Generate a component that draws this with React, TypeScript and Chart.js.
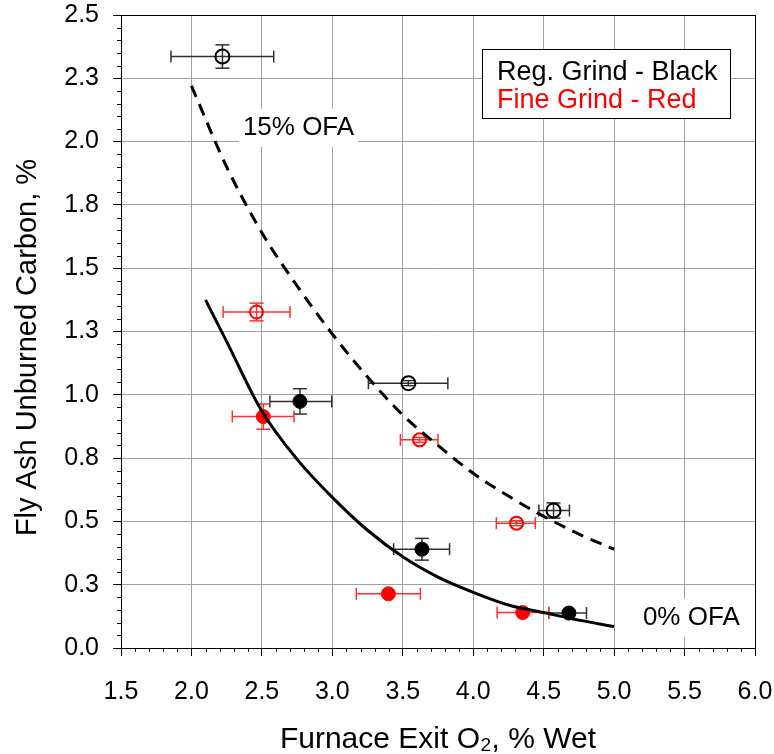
import React, { useEffect, useRef } from "react";
import { Chart, registerables } from "chart.js";

Chart.register(...registerables);

// ---- data ----
const xTickMin = 1.5;
const xTickMax = 6.0;
const xTickStep = 0.5;
const yTickMin = 0;
const yTickMax = 2.5;
const yTickStep = 0.25;

// Reg. Grind (black), 15% OFA (open circles)
const regOpenX = [2.22, 3.54, 4.57];
const regOpenY = [2.336, 1.046, 0.543];
const regOpenXLo = [1.855, 3.256, 4.466];
const regOpenXHi = [2.584, 3.82, 4.683];
const regOpenYErr = [0.046, 0.01, 0.03];

// Reg. Grind (black), 0% OFA (filled circles)
const regFillX = [2.77, 3.636, 4.679];
const regFillY = [0.974, 0.39, 0.138];
const regFillXLo = [2.557, 3.435, 4.536];
const regFillXHi = [2.996, 3.832, 4.804];
const regFillYErr = [0.05, 0.043, 0.01];

// Fine Grind (red), 15% OFA (open circles)
const fineOpenX = [2.462, 3.619, 4.307];
const fineOpenY = [1.327, 0.822, 0.493];
const fineOpenXLo = [2.225, 3.483, 4.164];
const fineOpenXHi = [2.7, 3.75, 4.441];
const fineOpenYErr = [0.035, 0.01, 0.01];

// Fine Grind (red), 0% OFA (filled circles)
const fineFillX = [2.51, 3.398, 4.351];
const fineFillY = [0.914, 0.214, 0.14];
const fineFillXLo = [2.29, 3.17, 4.17];
const fineFillXHi = [2.728, 3.625, 4.536];
const fineFillYErr = [0.05, 0, 0];

// Trend curves
const ofa15X = [2.0, 2.25, 2.5, 2.75, 3.0, 3.25, 3.5, 3.75, 4.0, 4.25, 4.5, 4.75, 5.0];
const ofa15Y = [2.22, 1.9, 1.64, 1.43, 1.24, 1.07, 0.92, 0.8, 0.69, 0.6, 0.52, 0.45, 0.39];
const ofa0X = [2.1, 2.25, 2.5, 2.75, 3.0, 3.25, 3.5, 3.75, 4.0, 4.25, 4.5, 4.75, 5.0];
const ofa0Y = [1.375, 1.21, 0.935, 0.745, 0.595, 0.465, 0.36, 0.28, 0.22, 0.17, 0.14, 0.11, 0.085];

// Text
const xTitle = "Furnace Exit O\u2082, % Wet";
const yTitle = "Fly Ash Unburned Carbon, %";
const legendLines = ["Reg. Grind - Black", "Fine Grind - Red"];
const curveLabels = ["15% OFA", "0% OFA"];
const curveLabelX = [2.76, 5.548];
const curveLabelY = [2.062, 0.127];

const FONT = '"Liberation Sans", Arial, Helvetica, sans-serif';
const RED = "#ff0000";
const BLACK = "#000000";

const pts = (xs: number[], ys: number[]) => xs.map((x, i) => ({ x, y: ys[i] }));

const errorSets = [
  { x: regOpenX, y: regOpenY, lo: regOpenXLo, hi: regOpenXHi, ye: regOpenYErr, color: "#303030" },
  { x: regFillX, y: regFillY, lo: regFillXLo, hi: regFillXHi, ye: regFillYErr, color: "#303030" },
  { x: fineOpenX, y: fineOpenY, lo: fineOpenXLo, hi: fineOpenXHi, ye: fineOpenYErr, color: "#ff3030" },
  { x: fineFillX, y: fineFillY, lo: fineFillXLo, hi: fineFillXHi, ye: fineFillYErr, color: "#ff3030" },
];

const zeroPad = (s: any) => {
  s.paddingTop = 0;
  s.paddingBottom = 0;
  s.paddingLeft = 0;
  s.paddingRight = 0;
};

const decorPlugin = {
  id: "decor",
  beforeDatasetsDraw(chart: any) {
    const { ctx, scales } = chart;
    const xs = scales.x;
    const ys = scales.y;
    ctx.save();
    ctx.lineWidth = 1.5;
    const seg = (a: number, b: number, c: number, d: number) => {
      ctx.beginPath();
      ctx.moveTo(a, b);
      ctx.lineTo(c, d);
      ctx.stroke();
    };
    errorSets.forEach((s) => {
      ctx.strokeStyle = s.color;
      s.x.forEach((xv, i) => {
        const px = xs.getPixelForValue(xv);
        const py = ys.getPixelForValue(s.y[i]);
        const x0 = xs.getPixelForValue(s.lo[i]);
        const x1 = xs.getPixelForValue(s.hi[i]);
        seg(x0, py, x1, py);
        seg(x0, py - 6, x0, py + 6);
        seg(x1, py - 6, x1, py + 6);
        if (s.ye[i] > 0) {
          const y0 = ys.getPixelForValue(s.y[i] - s.ye[i]);
          const y1 = ys.getPixelForValue(s.y[i] + s.ye[i]);
          seg(px, y0, px, y1);
          seg(px - 7, y0, px + 7, y0);
          seg(px - 7, y1, px + 7, y1);
        }
      });
    });
    ctx.restore();
  },
  afterDatasetsDraw(chart: any) {
    const { ctx, scales, chartArea } = chart;
    const xs = scales.x;
    const ys = scales.y;
    ctx.save();
    // curve labels with white background
    const size = 26;
    ctx.font = `${size}px ${FONT}`;
    ctx.textAlign = "center";
    ctx.textBaseline = "alphabetic";
    curveLabels.forEach((t, i) => {
      const cx = xs.getPixelForValue(curveLabelX[i]);
      const cy = ys.getPixelForValue(curveLabelY[i]);
      const w = ctx.measureText(t).width;
      ctx.fillStyle = "#ffffff";
      ctx.fillRect(cx - w / 2 - 4, cy - 17, w + 8, 38);
      ctx.fillStyle = BLACK;
      ctx.fillText(t, cx, cy + size * 0.36);
    });
    // legend box
    const bw = 248;
    const bh = 69;
    const bx = chartArea.right - 25 - bw;
    const by = chartArea.top + 34;
    ctx.fillStyle = "#ffffff";
    ctx.fillRect(bx, by, bw, bh);
    ctx.strokeStyle = BLACK;
    ctx.lineWidth = 1;
    ctx.strokeRect(Math.round(bx) + 0.5, Math.round(by) + 0.5, bw, bh);
    ctx.textAlign = "left";
    ctx.font = `27px ${FONT}`;
    ctx.fillStyle = BLACK;
    ctx.fillText(legendLines[0], bx + 15, by + 31);
    ctx.fillStyle = RED;
    ctx.fillText(legendLines[1], bx + 15, by + 59);
    ctx.restore();
  },
  afterDraw(chart: any) {
    const { ctx, scales, chartArea } = chart;
    const xs = scales.x;
    const ys = scales.y;
    ctx.save();
    ctx.strokeStyle = BLACK;
    ctx.lineWidth = 1;
    // minor ticks
    const nx = Math.round((xTickMax - xTickMin) / 0.1);
    for (let i = 0; i <= nx; i++) {
      if (i % 5 === 0) continue;
      const px = Math.round(xs.getPixelForValue(xTickMin + i * 0.1)) + 0.5;
      ctx.beginPath();
      ctx.moveTo(px, chartArea.bottom);
      ctx.lineTo(px, chartArea.bottom + 4);
      ctx.stroke();
    }
    const ny = Math.round((yTickMax - yTickMin) / 0.05);
    for (let i = 0; i <= ny; i++) {
      if (i % 5 === 0) continue;
      const py = Math.round(ys.getPixelForValue(yTickMin + i * 0.05)) + 0.5;
      ctx.beginPath();
      ctx.moveTo(chartArea.left, py);
      ctx.lineTo(chartArea.left - 4, py);
      ctx.stroke();
    }
    // frame
    ctx.strokeRect(
      Math.round(chartArea.left) + 0.5,
      Math.round(chartArea.top) + 0.5,
      Math.round(chartArea.right - chartArea.left),
      Math.round(chartArea.bottom - chartArea.top)
    );
    // y axis title
    ctx.font = `29px ${FONT}`;
    ctx.fillStyle = BLACK;
    ctx.textAlign = "center";
    ctx.textBaseline = "middle";
    ctx.translate(28, (chartArea.top + chartArea.bottom) / 2 + 16);
    ctx.rotate(-Math.PI / 2);
    ctx.fillText(yTitle, 0, 0);
    ctx.restore();
  },
};

export default function App() {
  const ref = useRef<HTMLCanvasElement | null>(null);
  useEffect(() => {
    document.body.style.margin = "0";
    const canvas = ref.current;
    if (!canvas) return;
    Chart.defaults.font.family = FONT;
    const chart = new Chart(canvas, {
      type: "scatter",
      data: {
        datasets: [
          {
            label: "15% OFA",
            data: pts(ofa15X, ofa15Y),
            showLine: true,
            borderColor: BLACK,
            borderWidth: 3,
            borderDash: [12, 8],
            pointRadius: 0,
            cubicInterpolationMode: "monotone",
          },
          {
            label: "0% OFA",
            data: pts(ofa0X, ofa0Y),
            showLine: true,
            borderColor: BLACK,
            borderWidth: 3,
            pointRadius: 0,
            cubicInterpolationMode: "monotone",
          },
          {
            label: "Reg open",
            data: pts(regOpenX, regOpenY),
            pointRadius: 7,
            pointBorderWidth: 2,
            pointBorderColor: BLACK,
            pointBackgroundColor: "rgba(0,0,0,0)",
          },
          {
            label: "Reg filled",
            data: pts(regFillX, regFillY),
            pointRadius: 7,
            pointBorderWidth: 1,
            pointBorderColor: BLACK,
            pointBackgroundColor: BLACK,
          },
          {
            label: "Fine open",
            data: pts(fineOpenX, fineOpenY),
            pointRadius: 6.5,
            pointBorderWidth: 2,
            pointBorderColor: RED,
            pointBackgroundColor: "rgba(0,0,0,0)",
          },
          {
            label: "Fine filled",
            data: pts(fineFillX, fineFillY),
            pointRadius: 7,
            pointBorderWidth: 1,
            pointBorderColor: RED,
            pointBackgroundColor: RED,
          },
        ],
      },
      options: {
        responsive: false,
        animation: false,
        devicePixelRatio: 1,
        layout: { padding: { left: 0, right: 19, top: 15, bottom: 0 } },
        plugins: { legend: { display: false }, tooltip: { enabled: false } },
        scales: {
          x: {
            type: "linear",
            min: xTickMin,
            max: xTickMax,
            afterFit: (s: any) => {
              s.height = 106;
              zeroPad(s);
            },
            ticks: {
              stepSize: xTickStep,
              color: BLACK,
              font: { size: 25, family: FONT },
              padding: 21,
              maxRotation: 0,
              callback: (v: any) => (Number(v) + 1e-9).toFixed(1),
            },
            grid: { color: "#a0a0a0", lineWidth: 1, tickColor: BLACK, tickLength: 8 },
            border: { color: BLACK, width: 1 },
            title: {
              display: true,
              text: xTitle,
              color: BLACK,
              font: { size: 30, family: FONT },
              padding: { top: 0, bottom: -4 },
            },
          },
          y: {
            type: "linear",
            min: yTickMin,
            max: yTickMax,
            afterFit: (s: any) => {
              s.width = 121;
              zeroPad(s);
            },
            ticks: {
              stepSize: yTickStep,
              color: BLACK,
              font: { size: 25, family: FONT },
              padding: 14,
              callback: (v: any) => (Number(v) + 1e-9).toFixed(1),
            },
            grid: { color: "#a0a0a0", lineWidth: 1, tickColor: BLACK, tickLength: 8 },
            border: { color: BLACK, width: 1 },
            title: { display: false, text: yTitle },
          },
        },
      },
      plugins: [decorPlugin],
    } as any);
    return () => chart.destroy();
  }, []);
  return (
    <canvas ref={ref} width={774} height={754} style={{ display: "block", width: 774, height: 754 }} />
  );
}
